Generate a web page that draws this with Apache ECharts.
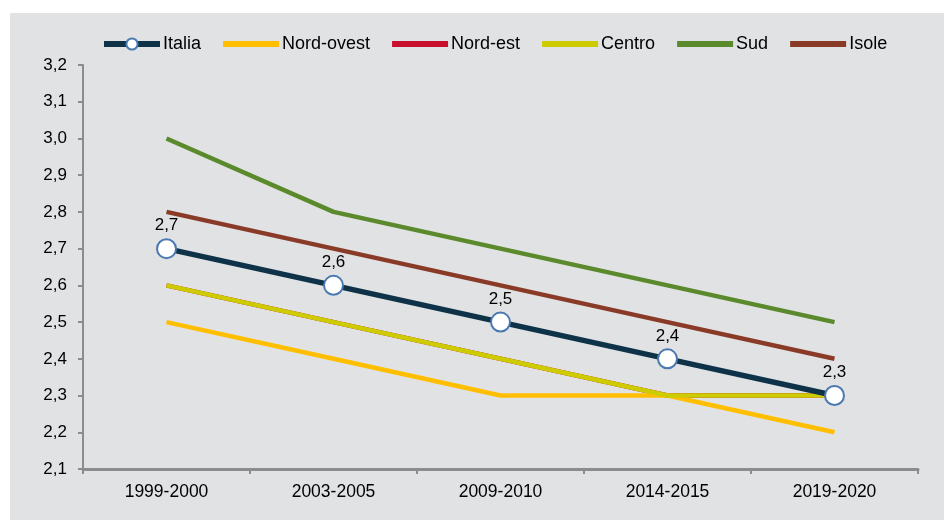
<!DOCTYPE html>
<html>
<head>
<meta charset="utf-8">
<script src="https://cdn.jsdelivr.net/npm/echarts@6/dist/echarts.min.js"></script>
<style>
  html, body { margin: 0; padding: 0; background: #fff; }
  #chart { width: 944px; height: 520px; }
</style>
</head>
<body>
<div id="chart"></div>
<script>
// dati
const categories = ['1999-2000', '2003-2005', '2009-2010', '2014-2015', '2019-2020']
const italia = [2.7, 2.6, 2.5, 2.4, 2.3]
const nordOvest = [2.5, 2.4, 2.3, 2.3, 2.2]
const nordEst = [2.6, 2.5, 2.4, 2.3, 2.3]
const centro = [2.6, 2.5, 2.4, 2.3, 2.3]
const sud = [3.0, 2.8, 2.7, 2.6, 2.5]
const isole = [2.8, 2.7, 2.6, 2.5, 2.4]

const fmt = (v) => Number(v).toFixed(1).replace('.', ',')
const font = 'Liberation Sans, Arial, sans-serif'

const chart = echarts.init(document.getElementById('chart'))

function plain(name, data, color, z) {
  return {
    name: name,
    type: 'line',
    data: data,
    z: z,
    symbol: 'none',
    lineStyle: { color: color, width: 4.5 },
    itemStyle: { color: color }
  }
}

// voce di legenda senza pallino
function legendLine(name) {
  return { name: name, itemStyle: { opacity: 0 } }
}

const option = {
  backgroundColor: '#ffffff',
  animation: false,
  textStyle: { fontFamily: font },
  graphic: [
    {
      type: 'rect',
      left: 10,
      top: 13,
      shape: { width: 934, height: 507 },
      style: { fill: '#e1e2e4' },
      z: -10
    }
  ],
  legend: {
    top: 30,
    left: 96,
    itemWidth: 56,
    itemHeight: 14,
    itemGap: 19,
    lineStyle: { width: 6 },
    textStyle: { fontSize: 18, color: '#000', fontFamily: font, padding: [0, 0, 0, -2] },
    data: [
      { name: 'Italia' },
      legendLine('Nord-ovest'),
      legendLine('Nord-est'),
      legendLine('Centro'),
      legendLine('Sud'),
      legendLine('Isole')
    ]
  },
  grid: { left: 83, right: 26, top: 65, bottom: 51 },
  xAxis: {
    type: 'category',
    data: categories,
    boundaryGap: true,
    axisLine: { lineStyle: { color: '#8c8c8c', width: 3 } },
    axisTick: { show: true, length: 5, lineStyle: { color: '#8c8c8c', width: 2 } },
    axisLabel: { fontSize: 17.5, color: '#000', margin: 14, fontFamily: font }
  },
  yAxis: {
    type: 'value',
    min: 2.1,
    max: 3.2,
    interval: 0.1,
    splitLine: { show: false },
    axisLine: { show: true, lineStyle: { color: '#8c8c8c', width: 2 } },
    axisTick: { show: true, length: 5, lineStyle: { color: '#8c8c8c', width: 2 } },
    axisLabel: { fontSize: 17, color: '#000', margin: 16, fontFamily: font, formatter: fmt }
  },
  series: [
    {
      name: 'Italia',
      type: 'line',
      data: italia,
      z: 10,
      symbol: 'circle',
      symbolSize: 19,
      lineStyle: { color: '#0e3349', width: 5.5 },
      itemStyle: { color: '#ffffff', borderColor: '#4a78b0', borderWidth: 2 },
      label: {
        show: true,
        position: 'top',
        distance: 4,
        fontSize: 17,
        color: '#000',
        fontFamily: font,
        formatter: (p) => fmt(p.value)
      }
    },
    plain('Nord-ovest', nordOvest, '#ffbf00', 3),
    plain('Nord-est', nordEst, '#c8102e', 2),
    plain('Centro', centro, '#cccc00', 4),
    plain('Sud', sud, '#5a8a2c', 3),
    plain('Isole', isole, '#8a3b28', 3)
  ]
}

chart.setOption(option)
</script>
</body>
</html>
